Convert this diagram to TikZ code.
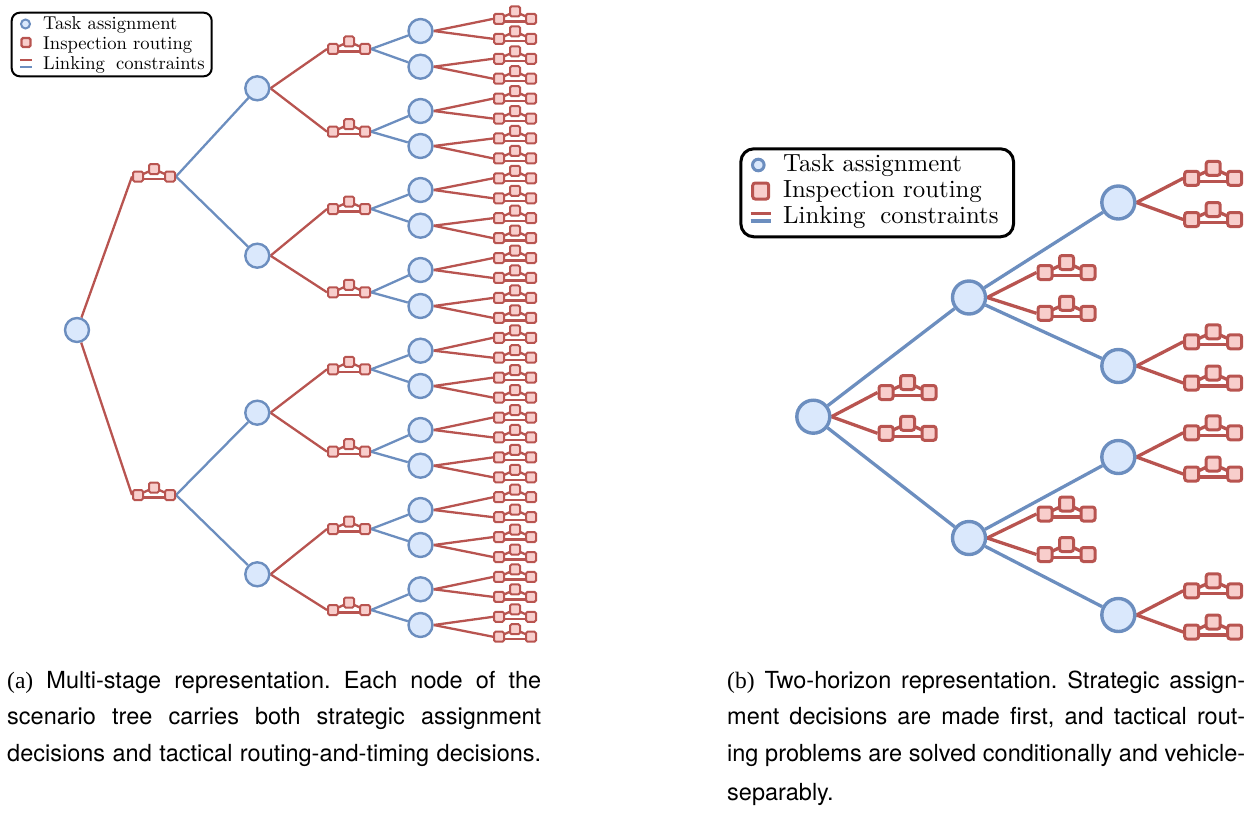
\documentclass[tikz,border=0pt]{standalone}
\usepackage{fontspec}
\newfontfamily\capsans{TeX Gyre Heros}
\newfontfamily\capserif{Liberation Serif}
\newfontfamily\lmten{lmroman10-regular}[Extension=.otf]
\usetikzlibrary{backgrounds}
\definecolor{bline}{HTML}{6C8EBF}
\definecolor{bfill}{HTML}{DAE8FC}
\definecolor{rline}{HTML}{B85450}
\definecolor{rfill}{HTML}{F8CECC}
\tikzset{
 circA/.style={circle, draw=bline, fill=bfill, line width=2.4pt, minimum size=24pt, inner sep=0pt},
 sqA/.style={rectangle, rounded corners=1.5pt, draw=rline, fill=rfill, line width=2pt, minimum size=10pt, inner sep=0pt},
 circB/.style={circle, draw=bline, fill=bfill, line width=3.4pt, minimum size=33pt, inner sep=0pt},
 sqB/.style={rectangle, rounded corners=2.5pt, draw=rline, fill=rfill, line width=3pt, minimum size=14pt, inner sep=0pt},
 redA/.style={draw=rline, line width=2.3pt},
 blueA/.style={draw=bline, line width=2.3pt},
 redB/.style={draw=rline, line width=3.3pt},
 blueB/.style={draw=bline, line width=3.3pt},
 legtxtA/.style={anchor=base west, inner sep=0pt, font=\lmten\fontsize{18.6}{20}\selectfont},
 legtxtB/.style={anchor=base west, inner sep=0pt, font=\lmten\fontsize{24.8}{27}\selectfont},
 captxt/.style={anchor=base west, inner sep=0pt, font=\capsans\frenchspacing\fontsize{23.5}{27}\selectfont},
}
\newcommand\gadA[3]{%
  \node[sqA] (#1-L) at (#2-16,#3) {};
  \node[sqA] (#1-M) at (#2,#3-7.5) {};
  \node[sqA] (#1-R) at (#2+16,#3) {};
  \begin{pgfonlayer}{background}
   \draw[redA] (#1-L.center) -- (#1-M.center) -- (#1-R.center);
   \draw[redA] ([yshift=-2.5pt]#1-L.center) -- ([yshift=-2.5pt]#1-R.center);
  \end{pgfonlayer}}
\newcommand\gadB[3]{%
  \node[sqB] (#1-L) at (#2-21.5,#3) {};
  \node[sqB] (#1-M) at (#2,#3-10) {};
  \node[sqB] (#1-R) at (#2+21.5,#3) {};
  \begin{pgfonlayer}{background}
   \draw[redB] (#1-L.center) -- (#1-M.center) -- (#1-R.center);
   \draw[redB] ([yshift=-3pt]#1-L.center) -- ([yshift=-3pt]#1-R.center);
  \end{pgfonlayer}}
\begin{document}
\begin{tikzpicture}[x=1pt,y=-1pt]
\useasboundingbox (0,0) rectangle (1249,816);
% ================= (a) =================
\node[circA] (root) at (77,330) {};
\gadA{ga0}{154}{176.5}
\gadA{ga1}{154}{495}
\foreach \y [count=\i from 0] in {88.3,255.7,412.7,574.3}{\node[circA] (c2-\i) at (257.3,\y) {};}
\foreach \y [count=\i from 0] in {49,131.7,209,292.3,369.3,451.7,529,610}{\gadA{gb\i}{349}{\y}}
\foreach \y [count=\i from 0] in {31,66.7,111,146,190,225.7,270,306,350.7,386,430,465.7,510,545,589.3,625}{\node[circA] (c3-\i) at (420.5,\y) {};}
\foreach \k in {0,...,31}{\pgfmathsetmacro\yy{18.9+19.93*\k}\gadA{lf\k}{515}{\yy}}
\begin{pgfonlayer}{background}
 \draw[redA] (root) -- (ga0-L.west);
 \draw[redA] (root) -- (ga1-L.west);
 \foreach \n in {0,1}{\pgfmathtruncatemacro\a{2*\n}\pgfmathtruncatemacro\b{2*\n+1}
   \draw[blueA] (ga\n-R.east) -- (c2-\a);
   \draw[blueA] (ga\n-R.east) -- (c2-\b);}
 \foreach \n in {0,...,3}{\pgfmathtruncatemacro\a{2*\n}\pgfmathtruncatemacro\b{2*\n+1}
   \draw[redA] (c2-\n.east) -- (gb\a-L.west);
   \draw[redA] (c2-\n.east) -- (gb\b-L.west);}
 \foreach \n in {0,...,7}{\pgfmathtruncatemacro\a{2*\n}\pgfmathtruncatemacro\b{2*\n+1}
   \draw[blueA] (gb\n-R.east) -- (c3-\a);
   \draw[blueA] (gb\n-R.east) -- (c3-\b);}
 \foreach \n in {0,...,15}{\pgfmathtruncatemacro\a{2*\n}\pgfmathtruncatemacro\b{2*\n+1}
   \draw[redA] (c3-\n.east) -- (lf\a-L.west);
   \draw[redA] (c3-\n.east) -- (lf\b-L.west);}
\end{pgfonlayer}
% legend (a)
\node[draw=black, line width=2pt, rounded corners=8pt, minimum width=200pt, minimum height=63.6pt, inner sep=0pt] (legA) at (111.7,44.5) {};
\node[circle, draw=bline, fill=bfill, line width=2pt, minimum size=9pt, inner sep=0pt] (legA1) at (25.5,24) {};
\node[rectangle, rounded corners=1.5pt, draw=rline, fill=rfill, line width=2.2pt, minimum size=9pt, inner sep=0pt] (legA2) at (26,42.5) {};
\coordinate (laR1) at (20,60); \coordinate (laR2) at (31.7,60);
\coordinate (laB1) at (20,66.7); \coordinate (laB2) at (31.7,66.7);
\draw[rline, line width=2.3pt] (laR1) -- (laR2);
\draw[bline, line width=2.3pt] (laB1) -- (laB2);
\node[legtxtA] (ltA1) at (43,29.5) {Task assignment};
\node[legtxtA] (ltA2) at (43,49.5) {Inspection routing};
\node[legtxtA] (ltA3) at (43,69.5) {Linking\hspace{0.6em}constraints};
% ================= (b) =================
\node[circB] (broot) at (813.3,416.7) {};
\gadB{gr0}{907.5}{392.5}
\gadB{gr1}{907.5}{433.3}
\node[circB] (b1-0) at (969,297.5) {};
\node[circB] (b1-1) at (969,538) {};
\gadB{gs0}{1066.5}{272.5}
\gadB{gs1}{1066.5}{313.3}
\gadB{gs2}{1066.5}{514}
\gadB{gs3}{1066.5}{554.5}
\foreach \y [count=\i from 0] in {202.5,366,457,615}{
  \node[circB] (b2-\i) at (1118.3,\y) {};
  \pgfmathtruncatemacro\a{2*\i}\pgfmathtruncatemacro\b{2*\i+1}
  \gadB{gt\a}{1213.2}{\y-24.2}
  \gadB{gt\b}{1213.2}{\y+17}}
\begin{pgfonlayer}{background}
 \draw[blueB] (broot) -- (b1-0);
 \draw[blueB] (broot) -- (b1-1);
 \draw[redB] (broot.east) -- (gr0-L.west);
 \draw[redB] (broot.east) -- (gr1-L.west);
 \draw[blueB] (b1-0) -- (b2-0);
 \draw[blueB] (b1-0) -- (b2-1);
 \draw[blueB] (b1-1) -- (b2-2);
 \draw[blueB] (b1-1) -- (b2-3);
 \draw[redB] (b1-0.east) -- (gs0-L.west);
 \draw[redB] (b1-0.east) -- (gs1-L.west);
 \draw[redB] (b1-1.east) -- (gs2-L.west);
 \draw[redB] (b1-1.east) -- (gs3-L.west);
 \foreach \n in {0,...,3}{\pgfmathtruncatemacro\a{2*\n}\pgfmathtruncatemacro\b{2*\n+1}
   \draw[redB] (b2-\n.east) -- (gt\a-L.west);
   \draw[redB] (b2-\n.east) -- (gt\b-L.west);}
\end{pgfonlayer}
% legend (b)
\node[draw=black, line width=3pt, rounded corners=13pt, minimum width=272.7pt, minimum height=88pt, inner sep=0pt] (legB) at (877.2,192.8) {};
\node[circle, draw=bline, fill=bfill, line width=3pt, minimum size=11.6pt, inner sep=0pt] (legB1) at (758.3,165) {};
\node[rectangle, rounded corners=2.5pt, draw=rline, fill=rfill, line width=3pt, minimum size=16pt, inner sep=0pt] (legB2) at (760.7,191) {};
\coordinate (lbR1) at (750.7,213.3); \coordinate (lbR2) at (770.7,213.3);
\coordinate (lbB1) at (750.7,221); \coordinate (lbB2) at (770.7,221);
\draw[rline, line width=3.3pt] (lbR1) -- (lbR2);
\draw[bline, line width=3.3pt] (lbB1) -- (lbB2);
\node[legtxtB] (ltB1) at (783,171) {Task assignment};
\node[legtxtB] (ltB2) at (783,197.3) {Inspection routing};
\node[legtxtB] (ltB3) at (783,223.5) {Linking\hspace{0.6em}constraints};
% captions
\node[captxt] (ca1) at (7,688) {\hbox to 534pt{{\capserif(a)} Multi-stage representation. Each node of the}};
\node[captxt] (ca2) at (7,724.5) {\hbox to 534pt{scenario tree carries both strategic assignment}};
\node[captxt] (ca3) at (7,761) {\hbox to 534pt{decisions and tactical routing-and-timing decisions.}};
\node[captxt] (cb1) at (727,688) {\hbox to 518pt{{\capserif(b)} Two-horizon representation. Strategic assign-}};
\node[captxt] (cb2) at (727,724.5) {\hbox to 518pt{ment decisions are made first, and tactical rout-}};
\node[captxt] (cb3) at (727,761) {\hbox to 518pt{ing problems are solved conditionally and vehicle-}};
\node[captxt] (cb4) at (727,800) {separably.};
\end{tikzpicture}
\end{document}
